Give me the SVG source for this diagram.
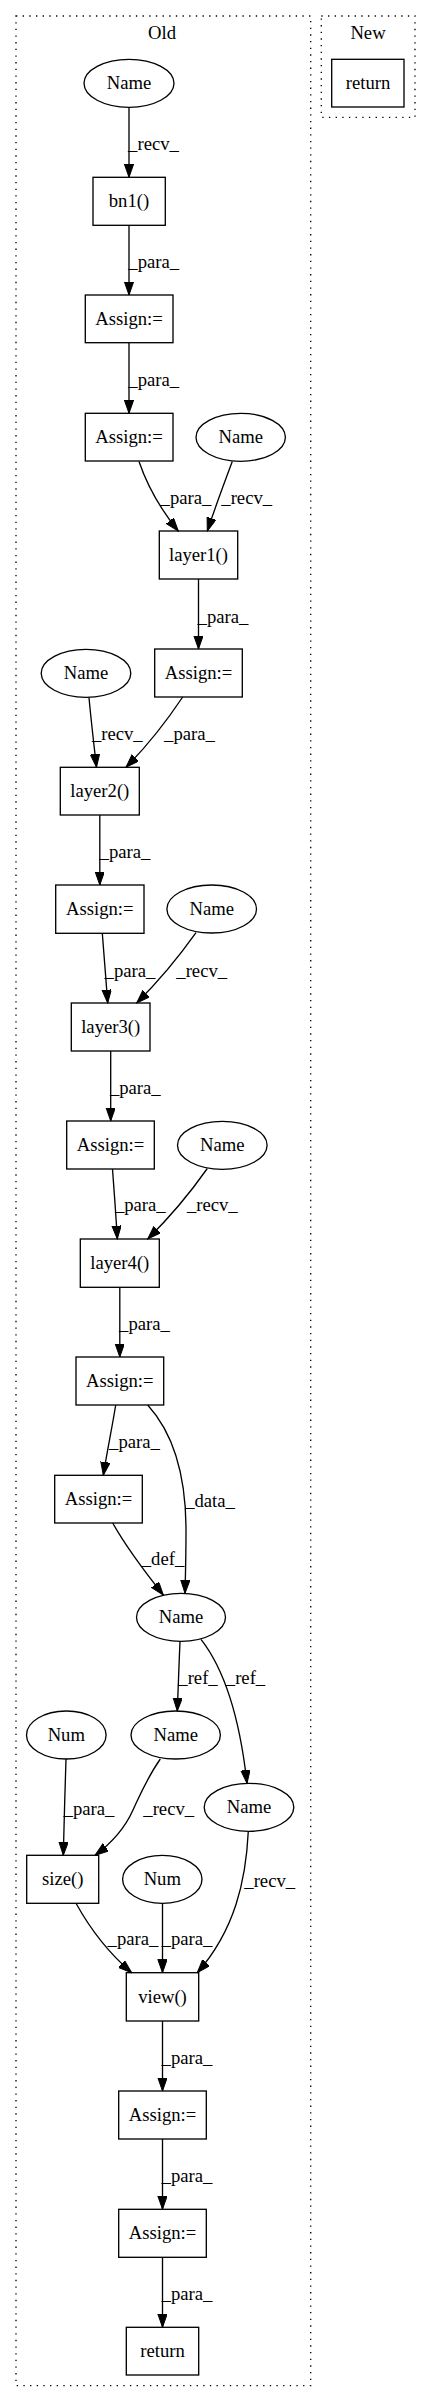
<svg xmlns="http://www.w3.org/2000/svg" width="431" height="2402" viewBox="0 0 431 2402" font-family="'Liberation Serif', 'Times New Roman', Times, serif">
<defs>
<marker id="ah" markerWidth="14" markerHeight="10" refX="13.3" refY="4.67" orient="auto" markerUnits="userSpaceOnUse">
<path d="M0,0 L13.3,4.67 L0,9.33 Z" fill="#000" stroke="#000" stroke-width="1"/>
</marker>
</defs>
<style>
text{font-family:'Liberation Serif','Times New Roman',Times,serif;font-size:18.67px;fill:#000;text-anchor:middle}
.box{fill:none;stroke:#000;stroke-width:1.33}
.ell{fill:none;stroke:#000;stroke-width:1.33}
.cl{fill:none;stroke:#000;stroke-width:1.33;stroke-dasharray:1.33,5.33}
#edges path{fill:none;stroke:#000;stroke-width:1.33;marker-end:url(#ah)}
</style>
<rect width="431" height="2402" fill="#fff"/>
<g id="cluster_old"><rect class="cl" x="16" y="16" width="294.7" height="2369.7"/><text x="162" y="39">Old</text></g>
<g id="cluster_new"><rect class="cl" x="321.3" y="16" width="93.7" height="101.3"/><text x="368" y="39">New</text></g>
<g id="new_return"><rect class="box" x="331.7" y="59.3" width="72.3" height="47.7"/><text x="368" y="88.8">return</text></g>

<g id="n1"><ellipse class="ell" cx="129" cy="83.3" rx="45" ry="24"/><text x="129" y="89">Name</text></g>
<g id="n2"><rect class="box" x="93" y="177.3" width="72.3" height="48"/><text x="129" y="207">bn1()</text></g>
<g id="n3"><rect class="box" x="85.3" y="295" width="87.7" height="47.7"/><text x="129" y="324.6">Assign:=</text></g>
<g id="n4"><rect class="box" x="85.3" y="413.3" width="87.7" height="47.7"/><text x="129" y="442.8">Assign:=</text></g>
<g id="n5"><ellipse class="ell" cx="240.7" cy="437.3" rx="44.7" ry="24"/><text x="240.7" y="443">Name</text></g>
<g id="n6"><rect class="box" x="159.3" y="531" width="78.4" height="48"/><text x="198.5" y="560.6">layer1()</text></g>
<g id="n7"><rect class="box" x="154.7" y="649" width="87.6" height="48"/><text x="198.5" y="678.6">Assign:=</text></g>
<g id="n8"><ellipse class="ell" cx="86" cy="673.3" rx="44.8" ry="24"/><text x="86" y="679">Name</text></g>
<g id="n9"><rect class="box" x="60.3" y="767.3" width="79" height="47.7"/><text x="99.8" y="796.8">layer2()</text></g>
<g id="n10"><rect class="box" x="55.7" y="885" width="88.3" height="48.3"/><text x="99.8" y="914.8">Assign:=</text></g>
<g id="n11"><ellipse class="ell" cx="211.7" cy="909" rx="44.8" ry="24"/><text x="211.7" y="914.7">Name</text></g>
<g id="n12"><rect class="box" x="71.3" y="1003" width="78.7" height="48"/><text x="110.7" y="1032.6">layer3()</text></g>
<g id="n13"><rect class="box" x="66.7" y="1121" width="87.6" height="48"/><text x="110.5" y="1150.6">Assign:=</text></g>
<g id="n14"><ellipse class="ell" cx="222.3" cy="1145.3" rx="44.8" ry="24"/><text x="222.3" y="1151">Name</text></g>
<g id="n15"><rect class="box" x="80.3" y="1239" width="79" height="48.3"/><text x="119.8" y="1268.8">layer4()</text></g>
<g id="n16"><rect class="box" x="76" y="1357" width="87.7" height="48"/><text x="119.8" y="1386.6">Assign:=</text></g>
<g id="n17"><rect class="box" x="54.7" y="1475.3" width="87.6" height="47.7"/><text x="98.5" y="1504.8">Assign:=</text></g>
<g id="n18"><ellipse class="ell" cx="181" cy="1617.3" rx="44.5" ry="24"/><text x="181" y="1623">Name</text></g>
<g id="n19"><ellipse class="ell" cx="175.7" cy="1735" rx="44.7" ry="24"/><text x="175.7" y="1740.7">Name</text></g>
<g id="n20"><ellipse class="ell" cx="249" cy="1807.3" rx="44.8" ry="24"/><text x="249" y="1813">Name</text></g>
<g id="n21"><ellipse class="ell" cx="66.3" cy="1735" rx="39.8" ry="24"/><text x="66.3" y="1740.7">Num</text></g>
<g id="n22"><rect class="box" x="26.7" y="1855.3" width="72" height="48"/><text x="62.7" y="1884.9">size()</text></g>
<g id="n23"><ellipse class="ell" cx="162.3" cy="1879.3" rx="39.7" ry="24"/><text x="162.3" y="1885">Num</text></g>
<g id="n24"><rect class="box" x="126.3" y="1972.7" width="72.4" height="48.3"/><text x="162.5" y="2002.5">view()</text></g>
<g id="n25"><rect class="box" x="118.7" y="2091" width="87.6" height="48"/><text x="162.5" y="2120.6">Assign:=</text></g>
<g id="n26"><rect class="box" x="118.7" y="2209.3" width="87.6" height="48"/><text x="162.5" y="2238.9">Assign:=</text></g>
<g id="n27"><rect class="box" x="126.3" y="2327.3" width="72.4" height="47.7"/><text x="162.5" y="2356.8">return</text></g>

<g id="edges">
<path d="M129,107.3 L129,177.3"/><text x="153.5" y="150">_recv_</text>
<path d="M129,225.3 L129,295"/><text x="153.7" y="267.5">_para_</text>
<path d="M129,342.7 L129,413.3"/><text x="153.7" y="385.5">_para_</text>
<path d="M139,461.5 C146,482 157,505 178.3,531"/><text x="186" y="503.5">_para_</text>
<path d="M232.3,461.5 C225,481 216,505 207.3,531"/><text x="246.7" y="503.5">_recv_</text>
<path d="M198.5,579 L198.5,649"/><text x="223" y="622.5">_para_</text>
<path d="M89,697.5 C91,720 94,745 96.5,767.3"/><text x="117.3" y="740">_recv_</text>
<path d="M182.7,697 C170,716 153,740 126,767.3"/><text x="189.5" y="740">_para_</text>
<path d="M99.8,815 L99.8,885"/><text x="125" y="858">_para_</text>
<path d="M102.3,933.3 C104,955 106,980 107.7,1003"/><text x="130" y="976.5">_para_</text>
<path d="M196,932.7 C183,951 165,975 136.7,1003"/><text x="201.7" y="976.5">_recv_</text>
<path d="M110.7,1051 L110.7,1121"/><text x="135.3" y="1094">_para_</text>
<path d="M112.5,1169 C114,1190 116,1215 117.3,1239"/><text x="140.3" y="1211">_para_</text>
<path d="M207.3,1168.5 C195,1186 175,1212 147.7,1239"/><text x="212.3" y="1211">_recv_</text>
<path d="M119.8,1287.3 L119.8,1357"/><text x="144.5" y="1330">_para_</text>
<path d="M115.7,1405 C112,1428 107,1452 103.3,1475.3"/><text x="134.5" y="1447.5">_para_</text>
<path d="M147.7,1405 C175,1435 186,1480 186,1530 C186,1555 185.5,1575 185,1593.3"/><text x="210" y="1507">_data_</text>
<path d="M112.7,1523 C125,1545 145,1572 163.3,1595"/><text x="163" y="1565">_def_</text>
<path d="M180,1641.3 C179,1665 178,1690 177.3,1711"/><text x="198" y="1683.5">_ref_</text>
<path d="M201,1639.3 C225,1670 240,1720 247,1783.3"/><text x="245.5" y="1683.5">_ref_</text>
<path d="M66,1759 C65,1790 64,1825 63.3,1855.3"/><text x="89" y="1815">_para_</text>
<path d="M160.3,1759 C147,1778 140,1795 133,1810 C125,1828 113,1842 95,1855.3"/><text x="168.7" y="1815">_recv_</text>
<path d="M248.3,1831.3 C246,1880 235,1930 197.3,1972.7"/><text x="269.7" y="1887">_recv_</text>
<path d="M76,1903.3 C88,1925 105,1950 131.7,1972.7"/><text x="133" y="1945">_para_</text>
<path d="M162.5,1903.3 L162.5,1972.7"/><text x="187" y="1945">_para_</text>
<path d="M162.5,2021 L162.5,2091"/><text x="187" y="2063.5">_para_</text>
<path d="M162.5,2139 L162.5,2209.3"/><text x="187" y="2181.5">_para_</text>
<path d="M162.5,2257.3 L162.5,2327.3"/><text x="187" y="2300">_para_</text>
</g>
</svg>
